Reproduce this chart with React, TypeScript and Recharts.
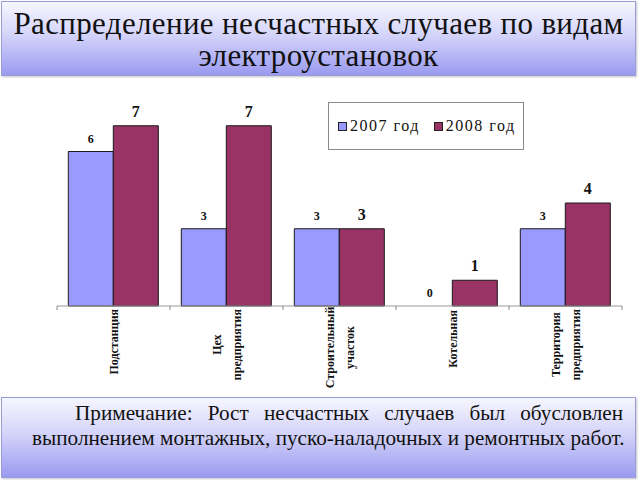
import React from 'react';
import { BarChart, Bar, XAxis, YAxis, Legend, LabelList, Rectangle } from 'recharts';

const categories = ['Подстанция', 'Цех\nпредприятия', 'Строительный\nучасток', 'Котельная', 'Территория\nпредприятия'];
const values2007 = [6, 3, 3, 0, 3];
const values2008 = [7, 7, 3, 1, 4];
const seriesNames = ['2007 год', '2008 год'];
const titleLine1 = 'Распределение несчастных случаев по видам';
const titleLine2 = 'электроустановок';
const noteLine1 = 'Примечание: Рост несчастных случаев был обусловлен';
const noteLine2 = 'выполнением монтажных, пуско-наладочных и ремонтных работ.';

const data = categories.map((name, i) => ({ name, y2007: values2007[i], y2008: values2008[i] }));

const SERIF = "'Liberation Serif', Tinos, 'Times New Roman', 'DejaVu Serif', serif";
const C2007 = '#9999FF';
const C2008 = '#993366';

const CategoryTick = (props: any) => {
  const { x, y, payload, index, visibleTicksCount } = props;
  const half = payload && payload.offset ? payload.offset : 56;
  const lines = String(payload.value).split('\n');
  const spacing = 20;
  const maxChars = Math.max(...lines.map((l) => l.length));
  // block hangs from just below the axis; lines centred on the longest one
  const cy = y + 7 + (maxChars * 5.75) / 2;
  const isLast = index === (visibleTicksCount ?? categories.length) - 1;
  return (
    <g>
      <line x1={x - half} x2={x - half} y1={y} y2={y + 4} stroke="#888" />
      {isLast && <line x1={x + half} x2={x + half} y1={y} y2={y + 4} stroke="#888" />}
      {lines.map((ln, i) => {
        const dx = (i - (lines.length - 1) / 2) * spacing;
        return (
          <text
            key={i}
            transform={`translate(${x + dx + 4},${cy}) rotate(-90)`}
            textAnchor="middle"
            style={{ fontFamily: SERIF }}
            fontSize={12}
            fontWeight="bold"
            fill="#111"
          >
            {ln}
          </text>
        );
      })}
    </g>
  );
};

const makeLabel = (fontSize: number) => (p: any) => {
  const { x, y, width, height, value } = p;
  const top = Number(value) === 0 ? y + height : y;
  return (
    <text
      x={x + width / 2}
      y={top - 9}
      textAnchor="middle"
      style={{ fontFamily: SERIF }}
      fontSize={fontSize}
      fontWeight="bold"
      fill="#111"
    >
      {String(value)}
    </text>
  );
};

// Zero-valued bars get a 1px placeholder (so their label is kept) that is not drawn.
const BarShape = (props: any) => {
  const v = Array.isArray(props.value) ? props.value[1] - props.value[0] : props.value;
  if (Number(v) === 0) return null;
  return <Rectangle {...props} />;
};

const zeroMin = (value: any) => (Number(value) === 0 ? 1 : 0);

const LegendContent = () => {
  const colors = [C2007, C2008];
  return (
    <div
      style={{
        boxSizing: 'border-box',
        width: 196,
        height: 48,
        border: '1px solid #8a8a8a',
        background: '#fff',
        display: 'flex',
        alignItems: 'center',
        paddingLeft: 9,
        fontFamily: SERIF,
        fontSize: 16,
        letterSpacing: '1.5px',
        color: '#111',
      }}
    >
      {seriesNames.map((n, i) => (
        <div key={n} style={{ display: 'flex', alignItems: 'center', marginRight: i === 0 ? 14 : 0 }}>
          <span
            style={{
              display: 'inline-block',
              width: 7,
              height: 7,
              background: colors[i],
              border: '1px solid #222',
              marginRight: 3,
            }}
          />
          <span>{n}</span>
        </div>
      ))}
    </div>
  );
};

const boxStyle: React.CSSProperties = {
  position: 'absolute',
  boxSizing: 'border-box',
  border: '1px solid #9c9cd6',
  background: 'linear-gradient(to bottom, #f6f6ff 0%, #d4d4fa 45%, #9a9af0 100%)',
  boxShadow: '1px 1px 2px rgba(80,80,120,0.35)',
  fontFamily: SERIF,
  color: '#111',
};

export default function App() {
  return (
    <div style={{ position: 'absolute', left: 0, top: 0, width: 640, height: 480, background: '#fff', overflow: 'hidden', fontFamily: SERIF }}>
      <div style={{ ...boxStyle, left: 1, top: 1, width: 635, height: 75, textAlign: 'center', fontSize: 31, lineHeight: '32px', letterSpacing: '0.35px', paddingTop: 6, whiteSpace: 'nowrap' }}>
        <div>{titleLine1}</div>
        <div>{titleLine2}</div>
      </div>
      <div style={{ position: 'absolute', left: 0, top: 0 }}>
        <BarChart
          width={640}
          height={480}
          data={data}
          margin={{ top: 100, right: 18, bottom: 114, left: 57 }}
          barCategoryGap="10%"
          barGap={0}
        >
          <YAxis hide domain={[0, 8]} />
          <XAxis
            dataKey="name"
            interval={0}
            height={60}
            tickLine={false}
            tickSize={0}
            tickMargin={0}
            axisLine={{ stroke: '#999' }}
            tick={<CategoryTick />}
          />
          <Legend
            layout="horizontal"
            verticalAlign="middle"
            align="center"
            content={<LegendContent />}
            wrapperStyle={{ left: 328, top: 102, width: 196, height: 48 }}
          />
          <Bar dataKey="y2007" name={seriesNames[0]} fill={C2007} stroke="#1a1a1a" strokeWidth={1} minPointSize={zeroMin} shape={<BarShape />} isAnimationActive={false}>
            <LabelList dataKey="y2007" position="top" content={makeLabel(12)} />
          </Bar>
          <Bar dataKey="y2008" name={seriesNames[1]} fill={C2008} stroke="#1a1a1a" strokeWidth={1} minPointSize={zeroMin} shape={<BarShape />} isAnimationActive={false}>
            <LabelList dataKey="y2008" position="top" content={makeLabel(16)} />
          </Bar>
        </BarChart>
      </div>
      <div style={{ ...boxStyle, left: 1, top: 397, width: 635, height: 81, fontSize: 21.2, lineHeight: '25px', paddingTop: 3, paddingLeft: 30, paddingRight: 12 }}>
        <div style={{ textAlign: 'justify', textAlignLast: 'justify', textIndent: 43, whiteSpace: 'nowrap' }}>{noteLine1}</div>
        <div style={{ whiteSpace: 'nowrap' }}>{noteLine2}</div>
      </div>
    </div>
  );
}
